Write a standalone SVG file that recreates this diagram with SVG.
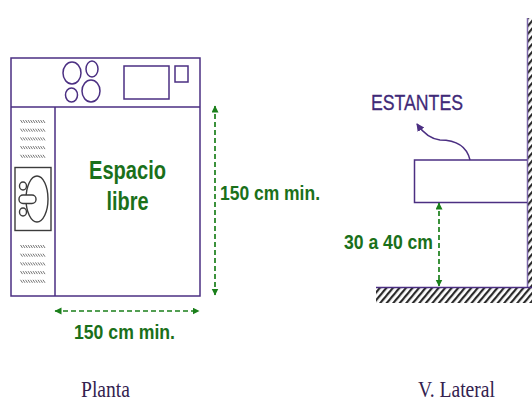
<svg xmlns="http://www.w3.org/2000/svg" width="532" height="402" viewBox="0 0 532 402">
<style>
.p{fill:none;stroke:#4b2f82;stroke-width:1.5}
.s{fill:none;stroke:#3c3c3c;stroke-width:1.4}
.g{font-family:"Liberation Sans",Arial,sans-serif;font-weight:bold;fill:#1a701a}
.c{font-family:"Liberation Serif","Times New Roman",serif;font-size:23px;fill:#33224f}
.d{stroke:#1a7f1a;stroke-width:1.7;stroke-dasharray:5 3;fill:none}
</style>
<defs>
<path id="w" d="M20.500 0l2 3M23 0l2 3M25.500 0l2 3M28 0l2 3M30.500 0l2 3M33 0l2 3M35.500 0l2 3M38 0l2 3M40.500 0l2 3M43 0l2 3" stroke="#777" stroke-width="1" fill="none"/>
<pattern id="h" width="5" height="6" patternUnits="userSpaceOnUse" patternTransform="rotate(40)">
<rect width="2.200" height="6" fill="#2a2a2a"/>
</pattern>
<marker id="a" markerWidth="8" markerHeight="8" refX="6.500" refY="3.500" orient="auto-start-reverse" markerUnits="userSpaceOnUse"><path d="M0 0L7 3.500L0 7z" fill="#1a7f1a"/></marker>
<marker id="b" markerWidth="9" markerHeight="9" refX="7" refY="4" orient="auto" markerUnits="userSpaceOnUse"><path d="M0 0L8 4L0 8z" fill="#4b2f82"/></marker>
</defs>
<g id="planta-mueble">
<rect class="p" x="11" y="58" width="189" height="238"/>
<path class="p" d="M11 107H200M55 107V296"/>
</g>
<g id="cocina">
<ellipse class="p" cx="72" cy="73" rx="9" ry="11"/>
<ellipse class="p" cx="92" cy="69" rx="6" ry="8"/>
<ellipse class="p" cx="71.500" cy="95" rx="6" ry="7"/>
<ellipse class="p" cx="91" cy="91" rx="9" ry="11"/>
<rect class="p" x="124" y="66" width="45" height="33"/>
<rect class="p" x="175" y="66" width="13" height="16"/>
</g>
<g id="textura">
<use href="#w" y="120"/>
<use href="#w" y="128.700"/>
<use href="#w" y="137.400"/>
<use href="#w" y="146.100"/>
<use href="#w" y="154.800"/>
<use href="#w" y="245"/>
<use href="#w" y="253.700"/>
<use href="#w" y="262.400"/>
<use href="#w" y="271.100"/>
<use href="#w" y="279.800"/>
</g>
<g id="lavabo">
<rect class="s" x="15" y="167.500" width="36" height="63"/>
<ellipse class="s" cx="37" cy="199" rx="11" ry="23"/>
<rect x="19" y="195" width="17" height="8.500" rx="4" fill="#fff" stroke="#3c3c3c" stroke-width="1.400"/>
<ellipse cx="23" cy="186" rx="3.500" ry="4" fill="#fff" stroke="#3c3c3c" stroke-width="1.400"/>
<ellipse cx="23" cy="212" rx="3.500" ry="4" fill="#fff" stroke="#3c3c3c" stroke-width="1.400"/>
</g>
<g id="vista-lateral">
<rect x="527" y="18" width="5" height="270" fill="url(#h)"/>
<rect x="376" y="288" width="156" height="15" fill="url(#h)"/>
<path fill="none" stroke="#7d68aa" stroke-width="1.500" d="M527.500 18V288"/>
<path class="p" d="M376 287.500H532M527 160H414.500V202.500H527"/>
</g>
<g id="conectores">
<path class="d" d="M55 311H199" marker-start="url(#a)" marker-end="url(#a)"/>
<path class="d" d="M215 106V295" marker-start="url(#a)" marker-end="url(#a)"/>
<path class="d" d="M439 203V286" marker-start="url(#a)" marker-end="url(#a)"/>
<path fill="none" stroke="#4b2f82" stroke-width="1.500" d="M470 160C466 143 452 140 440 140C431 139 424 134 417 124" marker-end="url(#b)"/>
</g>
<g id="textos">
<text class="g" x="127.500" y="179" font-size="25" text-anchor="middle" textLength="77" lengthAdjust="spacingAndGlyphs">Espacio</text>
<text class="g" x="127.500" y="210" font-size="25" text-anchor="middle" textLength="42" lengthAdjust="spacingAndGlyphs">libre</text>
<text class="g" x="220" y="200" font-size="21" textLength="100" lengthAdjust="spacingAndGlyphs">150 cm min.</text>
<text class="g" x="74" y="339" font-size="21" textLength="101" lengthAdjust="spacingAndGlyphs">150 cm min.</text>
<text class="g" x="344" y="249" font-size="21" textLength="89" lengthAdjust="spacingAndGlyphs">30 a 40 cm</text>
<text x="371" y="110" font-family="'Liberation Sans',Arial,sans-serif" font-size="22" fill="#3f2a78" stroke="#3f2a78" stroke-width=".3" textLength="92" lengthAdjust="spacingAndGlyphs">ESTANTES</text>
<text class="c" x="81" y="397" textLength="49" lengthAdjust="spacingAndGlyphs">Planta</text>
<text class="c" x="418" y="397" textLength="77" lengthAdjust="spacingAndGlyphs">V. Lateral</text>
</g>
</svg>
